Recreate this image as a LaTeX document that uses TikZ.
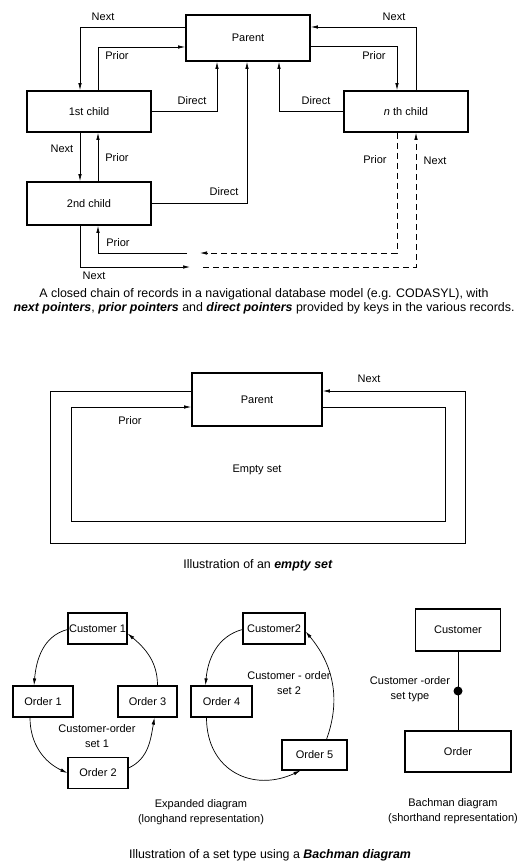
\documentclass[tikz,border=0pt]{standalone}
\usepackage{fontspec}
\setmainfont{Liberation Sans}
\usetikzlibrary{arrows.meta, positioning}
\tikzstyle{record} = [rectangle, draw=black, line width=1.7pt, text centered, minimum width=124pt, minimum height=42pt]
\tikzstyle{item} = [rectangle, draw=black, line width=1.2pt, text centered, inner sep=1pt, minimum width=60pt, minimum height=31pt]
\tikzstyle{lbl} = [inner sep=0pt, align=center]
\tikzstyle{caption} = [lbl, font=\fontsize{12.4}{13.5}\selectfont]
\tikzstyle{arrow} = [line width=0.7pt, ->, >={Latex[length=7pt, width=3.5pt]}]
\tikzstyle{dasharrow} = [arrow, dash pattern=on 6pt off 4pt]
\tikzstyle{plain} = [line width=0.7pt]

\begin{document}
\begin{tikzpicture}[x=1pt, y=1pt, font=\fontsize{11}{15}\selectfont]
  \useasboundingbox (0,0) rectangle (520,-861);
  % Geschlossene Kette
  \node (parent) [record, minimum width=124pt, minimum height=46pt] at (248,-38) {Parent};
  \node (first) [record, minimum height=41pt] at (89,-111.5) {1st child};
  \node (nth) [record, minimum height=41pt] at (406,-111.5) {\textit{n} th child};
  \node (second) [record, minimum height=43pt] at (89,-203.5) {2nd child};
  \coordinate (ptip) at (200,-253);
  \coordinate (pback) at (187,-253);
  \coordinate (ntip) at (190,-267);
  \coordinate (nback) at (203,-267);
  % Pfeile
  \draw [arrow] ([yshift=11pt]parent.west) -| ([xshift=-9pt]first.north);
  \draw [arrow] ([xshift=9pt]first.north) |- ([yshift=-9pt]parent.west);
  \draw [arrow] (first.east) -| ([xshift=-31pt]parent.south);
  \draw [arrow] (second.east) -| ([xshift=-1pt]parent.south);
  \draw [arrow] (nth.west) -| ([xshift=31pt]parent.south);
  \draw [arrow] ([xshift=10pt]nth.north) |- ([yshift=11pt]parent.east);
  \draw [arrow] ([yshift=-8pt]parent.east) -| ([xshift=-9pt]nth.north);
  \draw [arrow] ([xshift=-9pt]first.south) -- ([xshift=-9pt]second.north);
  \draw [arrow] ([xshift=9pt]second.north) -- ([xshift=9pt]first.south);
  \draw [dasharrow] ([xshift=-9pt]nth.south) |- (ptip);
  \draw [arrow] (pback) -| ([xshift=9pt]second.south);
  \draw [arrow] ([xshift=-9pt]second.south) |- (ntip);
  \draw [dasharrow] (nback) -| ([xshift=10pt]nth.south);
  % Beschriftungen
  \node (l1) [lbl] at (103,-17) {Next};
  \node (l2) [lbl] at (117,-56) {Prior};
  \node (l3) [lbl] at (192,-101) {Direct};
  \node (l4) [lbl] at (224,-192) {Direct};
  \node (l5) [lbl] at (316,-101) {Direct};
  \node (l6) [lbl] at (394,-17) {Next};
  \node (l7) [lbl] at (374,-56) {Prior};
  \node (l8) [lbl] at (62,-149) {Next};
  \node (l9) [lbl] at (117,-158) {Prior};
  \node (l10) [lbl] at (375,-160) {Prior};
  \node (l11) [lbl] at (435,-161) {Next};
  \node (l12) [lbl] at (118,-243) {Prior};
  \node (l13) [lbl] at (94,-276) {Next};
  \node (cap1) [caption] at (264,-301.5) {A closed chain of records in a navigational database model (e.g. CODASYL), with\\
    \textbf{\textit{next pointers}}, \textbf{\textit{prior pointers}} and \textbf{\textit{direct pointers}} provided by keys in the various records.};

  % Leere Menge
  \node (parent2) [record, minimum width=130pt, minimum height=53pt] at (257,-399.5) {Parent};
  \coordinate (ol) at (50,-543);
  \coordinate (or) at (465,-543);
  \coordinate (il) at (71,-521);
  \coordinate (ir) at (445,-521);
  \draw [arrow] ([yshift=8.5pt]parent2.west) -| (ol) -- (or) |- ([yshift=8.5pt]parent2.east);
  \draw [arrow] ([yshift=-7.5pt]parent2.east) -| (ir) -- (il) |- ([yshift=-7.5pt]parent2.west);
  \node (l14) [lbl] at (369,-379) {Next};
  \node (l15) [lbl] at (130,-421) {Prior};
  \node (empty) [lbl] at (257,-470) {Empty set};
  \node (cap2) [caption] at (258,-565) {Illustration of an \textbf{\textit{empty set}}};

  % Erweitertes Diagramm
  \node (cust1) [item, minimum width=59pt] at (97.5,-628.5) {Customer 1};
  \node (order1) [item] at (43,-701.5) {Order 1};
  \node (order3) [item, minimum width=59pt] at (147.5,-701.5) {Order 3};
  \node (order2) [item] at (98,-773) {Order 2};
  \node (cust2) [item, minimum width=62pt] at (274,-628.5) {Customer2};
  \node (order4) [item, minimum width=61pt] at (221.5,-701.5) {Order 4};
  \node (order5) [item, minimum width=65pt, minimum height=30pt] at (314.5,-755) {Order 5};
  \draw [arrow] ([yshift=-1pt]cust1.west) to[out=195, in=85] ([xshift=-9pt]order1.north);
  \draw [arrow] ([xshift=-13pt]order1.south) to[out=-90, in=155] (order2.west);
  \draw [arrow] ([yshift=5pt]order2.east) to[out=25, in=-100] ([xshift=7pt]order3.south);
  \draw [arrow] ([xshift=10pt]order3.north) to[out=90, in=-40] ([yshift=-5pt]cust1.east);
  \draw [arrow] ([yshift=-1pt]cust2.west) to[out=195, in=85] ([xshift=-16pt]order4.north);
  \draw [arrow] ([xshift=-15pt]order4.south) to[out=-90, in=205, looseness=1.25] ([xshift=-14pt]order5.south);
  \draw [arrow] ([xshift=12pt]order5.north) to[out=70, in=-50] ([yshift=-3pt]cust2.east);
  \node (set1) [lbl] at (97,-736) {Customer-order\\set 1};
  \node (set2) [lbl] at (289,-683.5) {Customer - order\\set 2};
  \node (expd) [lbl] at (201,-812.5) {Expanded diagram\\(longhand representation)};

  % Bachman-Diagramm
  \node (bcust) [record, minimum width=85pt, minimum height=42pt] at (458,-630) {Customer};
  \node (border) [record, minimum width=106pt, minimum height=41pt] at (458,-751.5) {Order};
  \draw [plain] (bcust.south) -- (border.north);
  \node (dot) [circle, fill=black, inner sep=0pt, minimum size=9pt] at (458,-691) {};
  \node (stype) [lbl] at (410,-689) {Customer -order\\set type};
  \node (bach) [lbl] at (453,-811.5) {Bachman diagram\\(shorthand representation)};
  \node (cap3) [caption] at (270,-855) {Illustration of a set type using a \textbf{\textit{Bachman diagram}}};
\end{tikzpicture}
\end{document}
